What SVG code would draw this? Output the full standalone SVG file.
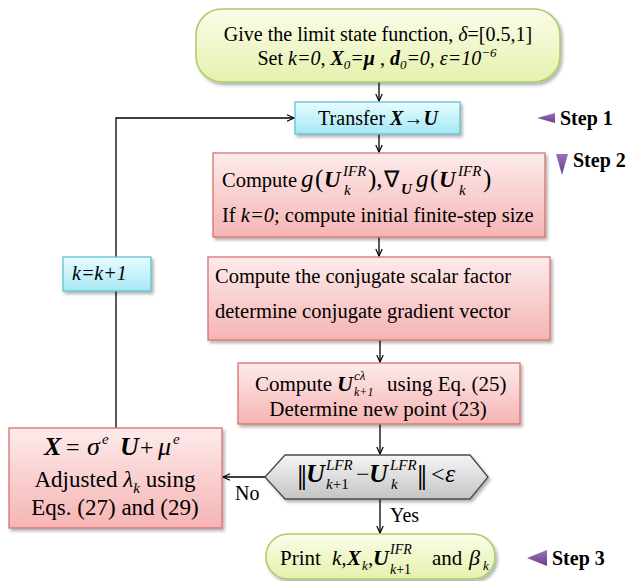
<svg xmlns="http://www.w3.org/2000/svg" width="627" height="581" viewBox="0 0 627 581">
<defs>
<linearGradient id="gGreen" x1="0" y1="0" x2="0" y2="1"><stop offset="0" stop-color="#fbfde9"/><stop offset="1" stop-color="#e5f1ad"/></linearGradient>
<linearGradient id="gCyan" x1="0" y1="0" x2="0" y2="1"><stop offset="0" stop-color="#e8fcff"/><stop offset="1" stop-color="#a5e8f4"/></linearGradient>
<linearGradient id="gPink" x1="0" y1="0" x2="0" y2="1"><stop offset="0" stop-color="#fdebeb"/><stop offset="1" stop-color="#f6b4b4"/></linearGradient>
<linearGradient id="gGray" x1="0" y1="0" x2="0" y2="1"><stop offset="0" stop-color="#f5f5f5"/><stop offset="1" stop-color="#c4c4c4"/></linearGradient>
<linearGradient id="gPurple" x1="0" y1="0" x2="0" y2="1"><stop offset="0" stop-color="#9a72b8"/><stop offset="1" stop-color="#6a3f8e"/></linearGradient>
<filter id="sh" x="-10%" y="-10%" width="130%" height="140%"><feDropShadow dx="2" dy="2.5" stdDeviation="1.5" flood-color="#000" flood-opacity="0.3"/></filter>
<marker id="arr" markerUnits="userSpaceOnUse" markerWidth="10" markerHeight="10" refX="8" refY="4" orient="auto"><path d="M1,0.8 L8,4 L1,7.2" fill="none" stroke="#000" stroke-width="1.2"/></marker>
</defs>

<g id="connectors" fill="none" stroke="#000" stroke-width="1.3">
<path d="M379,82 V101" marker-end="url(#arr)"/>
<path d="M379,134 V152" marker-end="url(#arr)"/>
<path d="M379,237 V256" marker-end="url(#arr)"/>
<path d="M380,340 V362" marker-end="url(#arr)"/>
<path d="M380,424 V454" marker-end="url(#arr)"/>
<path d="M380,499 V533" marker-end="url(#arr)"/>
<path d="M265,477 H223" marker-end="url(#arr)"/>
<path d="M116,428 V118 H294" marker-end="url(#arr)"/>
</g>
<g id="connector-labels">
<text font-family="Liberation Serif" font-size="20" x="235" y="500">No</text>
<text font-family="Liberation Serif" font-size="20" x="390" y="522">Yes</text>
</g>

<g id="start">
<rect x="196" y="9" width="364" height="73" rx="26" fill="url(#gGreen)" stroke="#a6cd6a" stroke-width="1.5" filter="url(#sh)"/>
<text font-family="Liberation Serif" font-size="20" x="378" y="41" text-anchor="middle">Give the limit state function, <tspan font-style="italic">δ</tspan>=[0.5,1]</text>
<text font-family="Liberation Serif" font-size="20" x="377" y="65" text-anchor="middle">Set <tspan font-style="italic">k=0,  </tspan><tspan font-style="italic" font-weight="bold">X</tspan><tspan font-style="italic" font-size="13" dy="4">0</tspan><tspan font-style="italic" dy="-4">=</tspan><tspan font-style="italic" font-weight="bold">μ</tspan> , <tspan font-style="italic" font-weight="bold">d</tspan><tspan font-style="italic" font-size="13" dy="4">0</tspan><tspan font-style="italic" dy="-4">=0, ε=10</tspan><tspan font-style="italic" font-size="13" dy="-8">−6</tspan></text>
</g>

<g id="transfer">
<rect x="295" y="102" width="165" height="32" fill="url(#gCyan)" stroke="#62bfd5" stroke-width="1.3" filter="url(#sh)"/>
<text font-family="Liberation Serif" font-size="20" x="378" y="125" text-anchor="middle">Transfer <tspan font-style="italic" font-weight="bold">X</tspan>→<tspan font-style="italic" font-weight="bold">U</tspan></text>
</g>

<g id="step1">
<polygon points="537,118 555,113 555,123" fill="url(#gPurple)"/>
<text font-family="Liberation Serif" font-size="20" font-weight="bold" x="560" y="125">Step 1</text>
</g>

<g id="step2">
<polygon points="556,154 568,154 562,175" fill="url(#gPurple)"/>
<text font-family="Liberation Serif" font-size="20" font-weight="bold" x="573" y="167">Step 2</text>
</g>

<g id="compute-g">
<rect x="213" y="153" width="332" height="84" fill="url(#gPink)" stroke="#d9706f" stroke-width="1.3" filter="url(#sh)"/>
<text font-family="Liberation Serif" font-size="20.5" x="222" y="187">Compute</text>
<text font-family="Liberation Serif" font-style="italic" font-size="25" x="301" y="187">g</text>
<text font-family="Liberation Serif" font-size="25" x="315" y="187">(</text>
<text font-family="Liberation Serif" font-style="italic" font-weight="bold" font-size="23" x="324" y="187">U</text>
<text font-family="Liberation Serif" font-style="italic" font-size="15" x="343" y="176">IFR</text>
<text font-family="Liberation Serif" font-style="italic" font-size="15" x="344" y="195">k</text>
<text font-family="Liberation Serif" font-size="25" x="368" y="187">),</text>
<text font-family="Liberation Serif" font-size="23" x="384" y="187">∇</text>
<text font-family="Liberation Serif" font-style="italic" font-weight="bold" font-size="15" x="401" y="194">U</text>
<text font-family="Liberation Serif" font-style="italic" font-size="25" x="416" y="187">g</text>
<text font-family="Liberation Serif" font-size="25" x="430" y="187">(</text>
<text font-family="Liberation Serif" font-style="italic" font-weight="bold" font-size="23" x="439" y="187">U</text>
<text font-family="Liberation Serif" font-style="italic" font-size="15" x="458" y="176">IFR</text>
<text font-family="Liberation Serif" font-style="italic" font-size="15" x="459" y="195">k</text>
<text font-family="Liberation Serif" font-size="25" x="483" y="187">)</text>
<text font-family="Liberation Serif" font-size="20.5" x="222" y="222">If <tspan font-style="italic">k=0</tspan>; compute initial finite-step size</text>
</g>

<g id="conjugate">
<rect x="208" y="257" width="342" height="83" fill="url(#gPink)" stroke="#d9706f" stroke-width="1.3" filter="url(#sh)"/>
<text font-family="Liberation Serif" font-size="20.5" x="215" y="283">Compute the conjugate scalar factor</text>
<text font-family="Liberation Serif" font-size="20.5" x="215" y="318">determine conjugate gradient vector</text>
</g>

<g id="new-point">
<rect x="238" y="363" width="282" height="61" fill="url(#gPink)" stroke="#d9706f" stroke-width="1.3" filter="url(#sh)"/>
<text font-family="Liberation Serif" font-size="21" x="255" y="391">Compute</text>
<text font-family="Liberation Serif" font-style="italic" font-weight="bold" font-size="22" x="337" y="391">U</text>
<text font-family="Liberation Serif" font-style="italic" font-size="13" x="354" y="380">cλ</text>
<text font-family="Liberation Serif" font-style="italic" font-size="12" x="354" y="396">k+1</text>
<text font-family="Liberation Serif" font-size="21" x="387" y="391">using Eq. (25)</text>
<text font-family="Liberation Serif" font-size="21" x="378" y="416" text-anchor="middle">Determine new point (23)</text>
</g>

<g id="check">
<polygon points="265,477 285,455 470,455 488,477 470,499 285,499" fill="url(#gGray)" stroke="#4a4a4a" stroke-width="1.3" filter="url(#sh)"/>
<text font-family="Liberation Serif" font-size="36" x="297" y="490">‖</text>
<text font-family="Liberation Serif" font-style="italic" font-weight="bold" font-size="26" x="306" y="482">U</text>
<text font-family="Liberation Serif" font-style="italic" font-size="15" x="326" y="470">LFR</text>
<text font-family="Liberation Serif" font-size="15" x="326" y="489"><tspan font-style="italic">k</tspan>+1</text>
<text font-family="Liberation Serif" font-size="24" x="356" y="482">−</text>
<text font-family="Liberation Serif" font-style="italic" font-weight="bold" font-size="26" x="369" y="482">U</text>
<text font-family="Liberation Serif" font-style="italic" font-size="15" x="390" y="470">LFR</text>
<text font-family="Liberation Serif" font-style="italic" font-size="15" x="391" y="489">k</text>
<text font-family="Liberation Serif" font-size="36" x="417" y="490">‖</text>
<text font-family="Liberation Serif" font-size="24" x="431" y="482">&lt;</text>
<text font-family="Liberation Serif" font-style="italic" font-size="26" x="445" y="482">ε</text>
</g>

<g id="adjust">
<rect x="9" y="428" width="213" height="100" fill="url(#gPink)" stroke="#d9706f" stroke-width="1.3" filter="url(#sh)"/>
<text font-family="Liberation Serif" font-style="italic" font-weight="bold" font-size="26" x="44" y="455">X</text>
<text font-family="Liberation Serif" font-size="24" x="66" y="455">=</text>
<text font-family="Liberation Serif" font-style="italic" font-size="26" x="87" y="455">σ</text>
<text font-family="Liberation Serif" font-style="italic" font-size="15" x="102" y="444">e</text>
<text font-family="Liberation Serif" font-style="italic" font-weight="bold" font-size="26" x="120" y="455">U</text>
<text font-family="Liberation Serif" font-size="24" x="140" y="455">+</text>
<text font-family="Liberation Serif" font-style="italic" font-size="26" x="158" y="455">μ</text>
<text font-family="Liberation Serif" font-style="italic" font-size="15" x="173" y="444">e</text>
<text font-family="Liberation Serif" font-size="23" x="115" y="487" text-anchor="middle">Adjusted <tspan font-style="italic">λ</tspan><tspan font-style="italic" font-size="15" dy="6">k</tspan><tspan dy="-6"> using</tspan></text>
<text font-family="Liberation Serif" font-size="23" x="115" y="515" text-anchor="middle">Eqs. (27) and (29)</text>
</g>

<g id="increment">
<rect x="63" y="257" width="88" height="34" fill="url(#gCyan)" stroke="#62bfd5" stroke-width="1.3" filter="url(#sh)"/>
<text font-family="Liberation Serif" font-style="italic" font-size="20" x="72" y="280">k=k+1</text>
</g>

<g id="print">
<rect x="266" y="534" width="229" height="45" rx="22" fill="url(#gGreen)" stroke="#a6cd6a" stroke-width="1.5" filter="url(#sh)"/>
<text font-family="Liberation Serif" font-size="21" x="280" y="565">Print</text>
<text font-family="Liberation Serif" font-style="italic" font-size="21" x="332" y="565">k,</text>
<text font-family="Liberation Serif" font-style="italic" font-weight="bold" font-size="21" x="347" y="565">X</text>
<text font-family="Liberation Serif" font-style="italic" font-size="13" x="362" y="570">k</text>
<text font-family="Liberation Serif" font-size="21" x="368" y="565">,</text>
<text font-family="Liberation Serif" font-style="italic" font-weight="bold" font-size="22" x="373" y="565">U</text>
<text font-family="Liberation Serif" font-style="italic" font-size="14" x="390" y="554">IFR</text>
<text font-family="Liberation Serif" font-size="14" x="390" y="574"><tspan font-style="italic">k</tspan>+1</text>
<text font-family="Liberation Serif" font-size="21" x="432" y="565">and</text>
<text font-family="Liberation Serif" font-style="italic" font-size="22" x="469" y="565">β</text>
<text font-family="Liberation Serif" font-style="italic" font-size="13" x="483" y="570">k</text>
</g>

<g id="step3">
<polygon points="527,558 547,550 547,566" fill="url(#gPurple)"/>
<text font-family="Liberation Serif" font-size="20" font-weight="bold" x="552" y="565">Step 3</text>
</g>
</svg>
